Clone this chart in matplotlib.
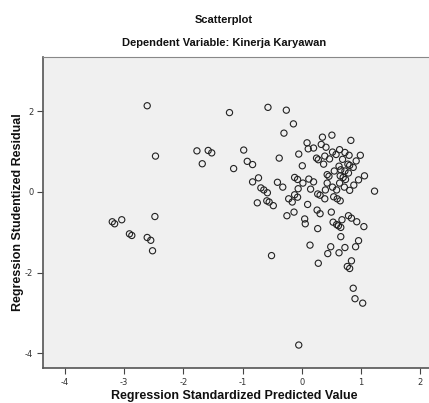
import matplotlib
matplotlib.use("Agg")
import matplotlib.pyplot as plt

title = "Scatterplot"
subtitle = "Dependent Variable: Kinerja Karyawan"
x_label = "Regression Standardized Predicted Value"
y_label = "Regression Studentized Residual"
x_ticks = [-4, -3, -2, -1, 0, 1, 2]
y_ticks = [-4, -2, 0, 2]

pred = [
    -2.61, -2.47, -1.77, -1.58, -1.52, -1.68, -1.22, -2.48, -3.20, -3.16,
    -3.04, -2.91, -2.87, -2.61, -2.55, -2.52,
    -0.57, -0.26, -0.14, -0.30, -0.98, -0.92, -0.83, -1.15, -0.38, 0.09,
    0.11, 0.20, 0.35, 0.51, 0.83, 0.33, 0.41, -0.05, 0.25, 0.28,
    0.39, 0.47, 0.52, 0.58, 0.64, 0.73, 0.80, 0.99, 0.92, 0.69,
    0.78, 0.81, 0.37, 0.01, 0.63, 0.87, 0.55, 0.66, 0.73, 0.79,
    0.43, 0.46, 0.65, 0.70, 0.74, 1.06, 0.96, 0.88, 0.81, 0.72,
    0.64, 0.52, 0.59, 0.43, 0.40, 1.23, 0.12, 0.20, 0.02, -0.12,
    -0.07, -0.06, 0.15, -0.12, -0.07, -0.22, -0.16, -0.41, -0.32, -0.73,
    -0.83, -0.69, -0.64, -0.58, -0.75, -0.59, -0.55, -0.48, -0.25, -0.13,
    0.10, 0.27, 0.31, 0.39, 0.54, 0.60, 0.65, 0.26, 0.31, 0.50,
    0.05, 0.06, 0.27, 0.53, 0.59, 0.62, 0.66, 0.68, 0.79, 0.84,
    0.93, 1.05, 0.66, 0.96, 0.91, 0.73, 0.49, 0.44, 0.63, 0.14,
    -0.51, 0.28, 0.84, 0.77, 0.81, -0.05, 0.87, 0.90, 1.03,
]
resid = [
    2.14, 0.89, 1.02, 1.03, 0.97, 0.70, 1.97, -0.61, -0.74, -0.79,
    -0.69, -1.04, -1.08, -1.13, -1.20, -1.46,
    2.10, 2.03, 1.69, 1.46, 1.04, 0.76, 0.68, 0.58, 0.84, 1.22,
    1.07, 1.09, 1.36, 1.41, 1.28, 1.18, 1.11, 0.94, 0.84, 0.80,
    0.89, 0.82, 0.99, 0.93, 1.05, 0.98, 0.91, 0.91, 0.77, 0.81,
    0.69, 0.66, 0.69, 0.65, 0.64, 0.61, 0.52, 0.55, 0.52, 0.47,
    0.43, 0.39, 0.40, 0.36, 0.31, 0.40, 0.30, 0.17, 0.04, 0.12,
    0.22, 0.12, 0.05, 0.22, 0.05, 0.02, 0.32, 0.25, 0.22, 0.36,
    0.31, 0.08, 0.07, -0.07, -0.13, -0.17, -0.25, 0.24, 0.12, 0.35,
    0.25, 0.10, 0.05, -0.02, -0.27, -0.22, -0.25, -0.34, -0.59, -0.50,
    -0.31, -0.05, -0.08, -0.17, -0.12, -0.17, -0.22, -0.45, -0.54, -0.50,
    -0.67, -0.79, -0.91, -0.75, -0.81, -0.84, -0.88, -0.69, -0.59, -0.65,
    -0.74, -0.86, -1.11, -1.21, -1.36, -1.38, -1.36, -1.53, -1.51, -1.32,
    -1.58, -1.77, -1.71, -1.85, -1.90, -3.80, -2.39, -2.65, -2.76,
]

W, H = 429, 403
fig = plt.figure(figsize=(W / 100, H / 100), dpi=100)
fig.patch.set_facecolor("white")

left, right, top, bottom = 43, 429, 57, 368
ax = fig.add_axes([left / W, 1 - bottom / H, (right - left) / W, (bottom - top) / H])
ax.set_facecolor("#f0f0f0")

ax.scatter(pred, resid, s=20, facecolors="none", edgecolors="#222222",
           linewidths=0.8, zorder=3)

ax.set_xlim(-4.37, 2.15)
ax.set_ylim(-4.37, 3.35)
ax.set_xticks(x_ticks)
ax.set_yticks(y_ticks)
ax.set_xticklabels([str(t) for t in x_ticks])
ax.set_yticklabels([str(t) for t in y_ticks])
ax.tick_params(axis="both", direction="out", length=4, width=0.8,
               colors="#444444", labelsize=6, labelcolor="#333333", pad=3)
for s in ["left", "bottom"]:
    ax.spines[s].set_color("#555555")
    ax.spines[s].set_linewidth(1.2)
ax.spines["top"].set_color("#888888")
ax.spines["top"].set_linewidth(0.8)
ax.spines["right"].set_visible(False)

font = "Liberation Sans"
fig.text(224 / W, 1 - 20 / H, title, ha="center", va="center",
         fontsize=8, fontweight="bold", family=font, color="#111111")
fig.text(224 / W, 1 - 43 / H, subtitle, ha="center", va="center",
         fontsize=8, fontweight="bold", family=font, color="#111111")
fig.text(234 / W, 1 - 396 / H, x_label, ha="center", va="center",
         fontsize=9, fontweight="bold", family=font, color="#111111")
fig.text(18 / W, 1 - 212 / H, y_label, ha="center", va="center",
         rotation=90, fontsize=9, fontweight="bold", family=font, color="#111111")

fig.savefig("out.png", dpi=100)
